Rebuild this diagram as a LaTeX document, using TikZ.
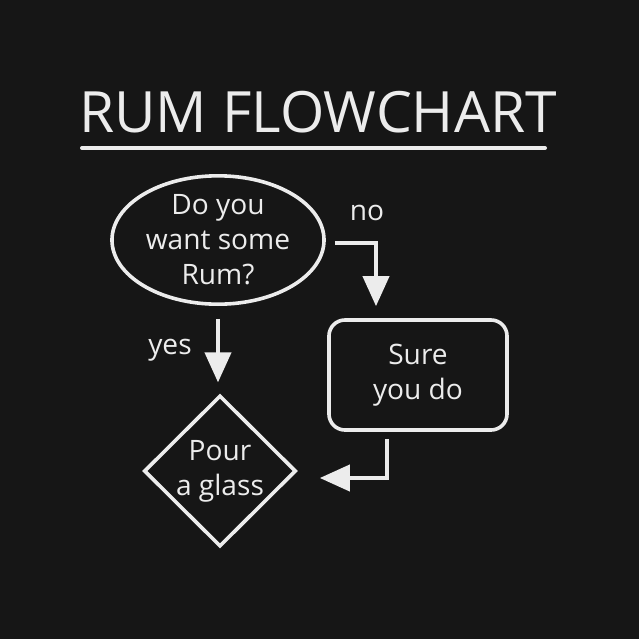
\documentclass[tikz,border=0pt]{standalone}
\usepackage{fontspec}
\setmainfont{Open Sans}
\usetikzlibrary{calc,arrows.meta,shapes.geometric}
\definecolor{shirt}{RGB}{22,22,22}
\definecolor{chalk}{RGB}{236,236,236}
\tikzset{
	chalkline/.style={line width=0.09cm, draw=chalk},
	bodytext/.style={text=chalk, font=\fontsize{20}{25}\selectfont, align=center, inner sep=0},
	flowarrow/.style={line width=0.1cm, draw=chalk, -{Triangle[length=0.75cm,width=0.65cm]}}
}

\begin{document}
\begin{tikzpicture}[x=0.025cm, y=-0.025cm]
			%%%%% START %%%%%
			
			\fill[shirt] (0, 0) rectangle (639, 639);
			\useasboundingbox (0, 0) rectangle (639, 639);
			
			\node[text=chalk, font=\fontsize{40.5}{44}\selectfont, inner sep=0] (title) at (318, 112) {RUM FLOWCHART};
			\draw[line width=0.1cm, draw=chalk, line cap=round] (82, 148) -- (545, 148);
			
			\node[ellipse, chalkline, bodytext, minimum width=5.3cm, minimum height=3.1cm] (rum) at (218, 240) {Do you\\want some\\Rum?};
			\node[rectangle, rounded corners=0.4cm, chalkline, bodytext, minimum width=4.45cm, minimum height=2.75cm] (sure) at (418, 375) {Sure\\you do};
			\node[diamond, chalkline, bodytext, minimum width=3.8cm, minimum height=3.78cm] (pour) at (220, 471) {Pour\\a glass};
			
			\node[bodytext] (nolabel) at (367, 213) {no};
			\node[bodytext] (yeslabel) at (170, 350) {yes};
			
			% no
			\coordinate (nostart) at ($(rum.east)+(9, 3)$);
			\draw[flowarrow, shorten >=0.3cm] (nostart) -| ($(sure.north)+(-42, 0)$);
			
			% yes
			\draw[flowarrow, shorten <=0.32cm, shorten >=0.28cm] (rum.south) -- (rum.south |- pour.north);
			
			% back
			\coordinate (backstart) at ($(sure.south)+(-31, 7)$);
			\draw[flowarrow] (backstart) |- ($(pour.east)+(22, 7)$);
			
			%%%%% END %%%%%
		\end{tikzpicture}
\end{document}
